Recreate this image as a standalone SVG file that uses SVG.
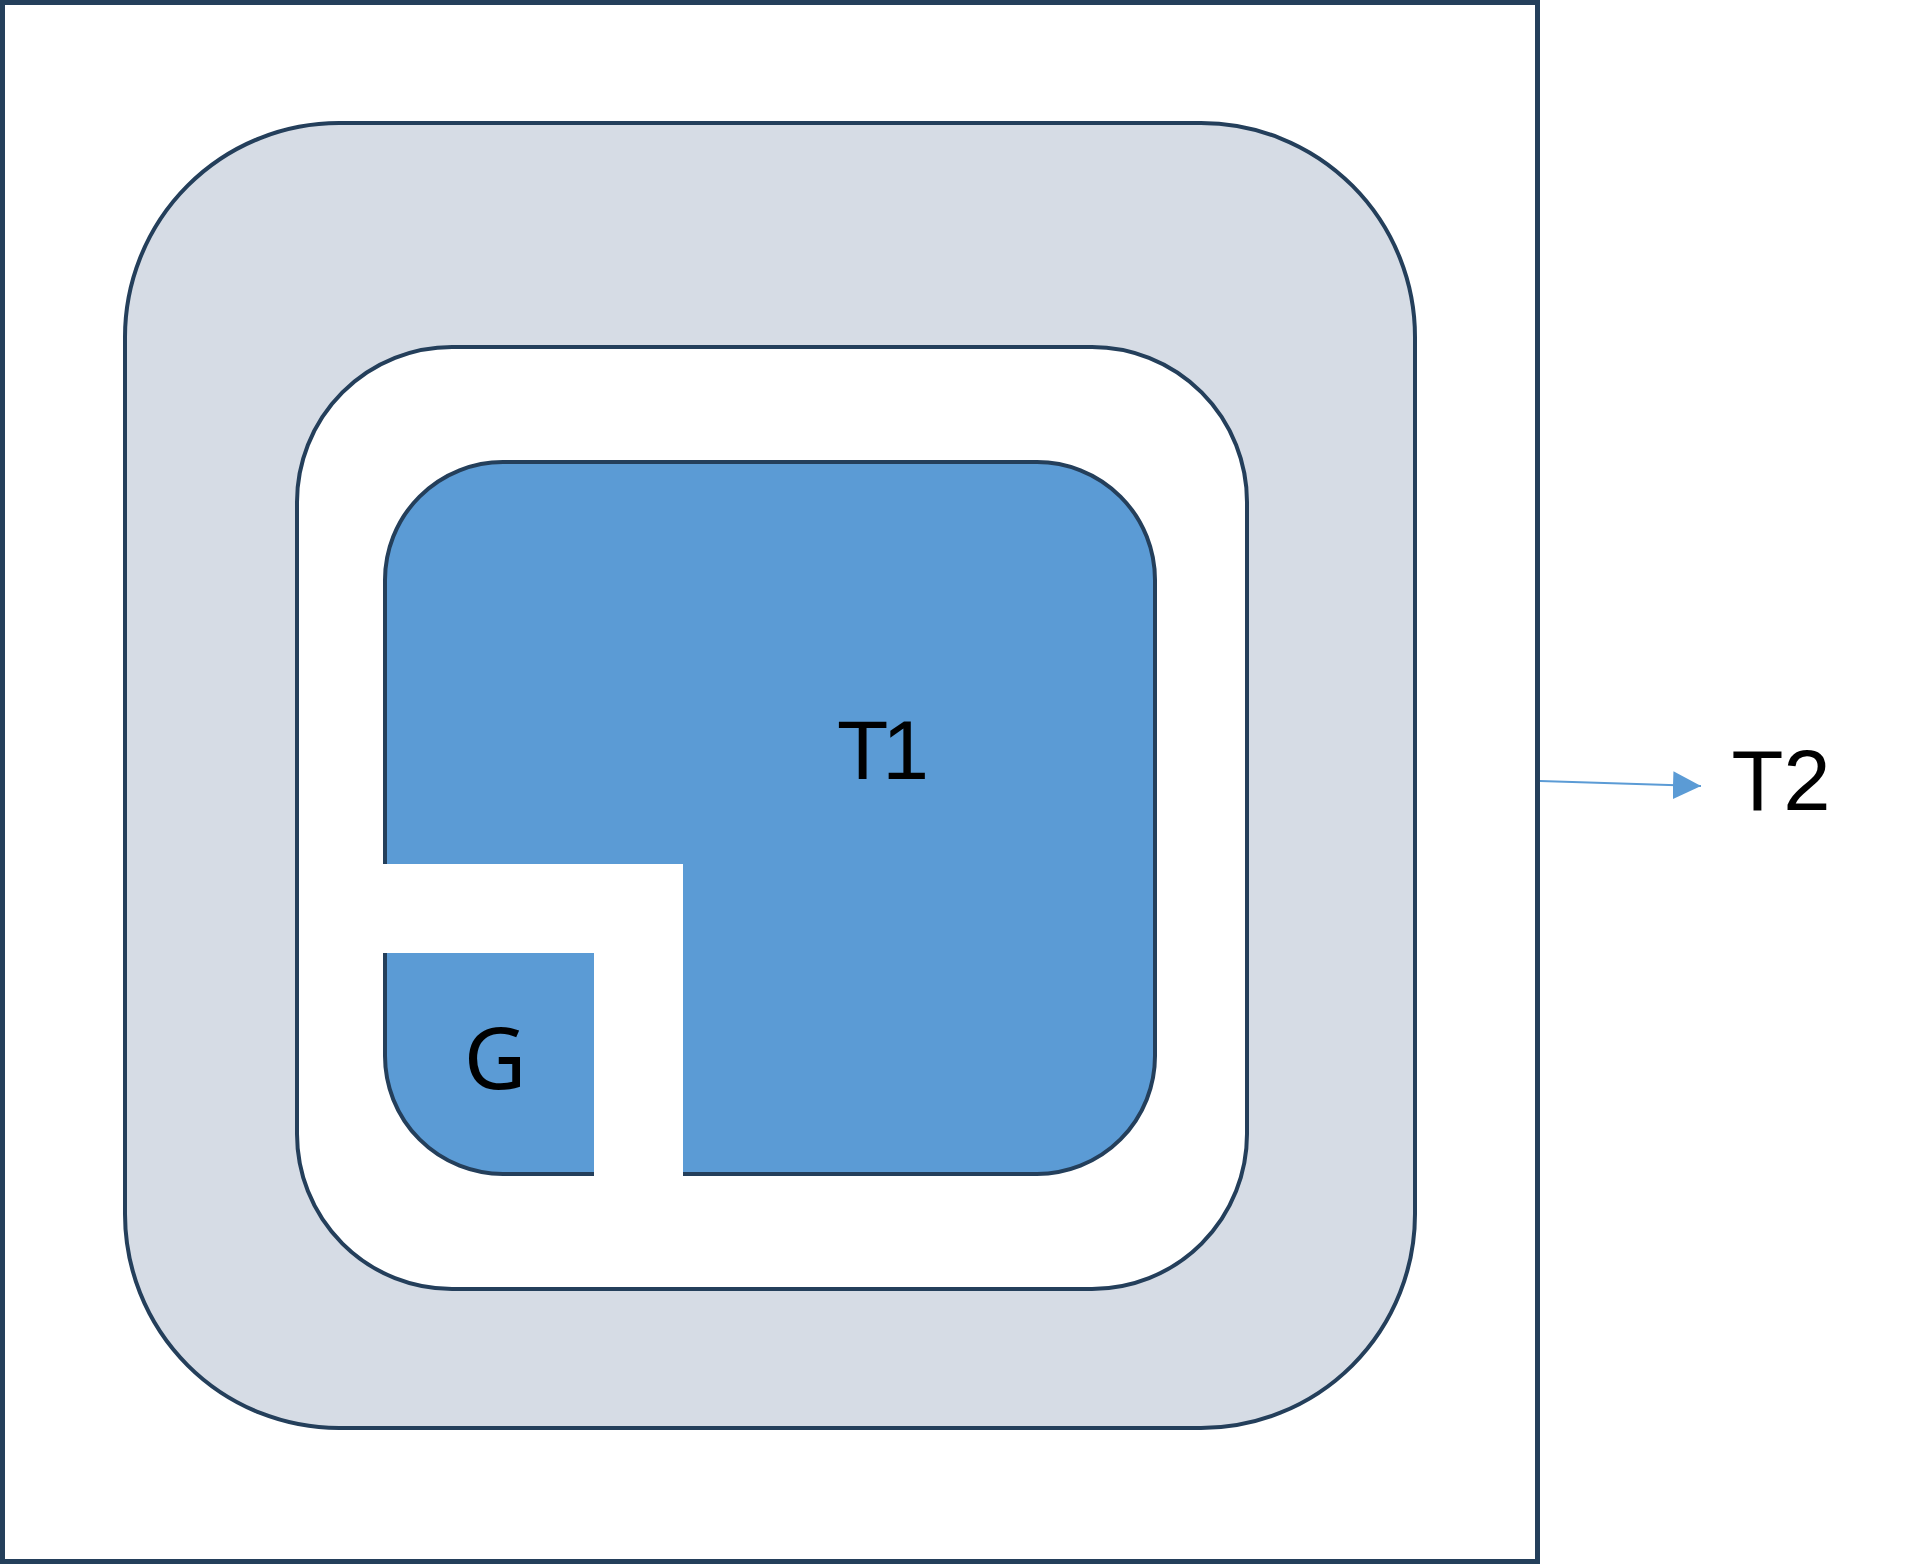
<svg xmlns="http://www.w3.org/2000/svg" width="1914" height="1564" viewBox="0 0 1914 1564">
  <defs>
    <style>
      .edge { stroke: #243F5B; stroke-width: 4; }
      .lbl { font-family: "Liberation Sans", Arial, sans-serif; fill: #000; text-anchor: middle; }
    </style>
    <marker id="arrow" markerWidth="28" markerHeight="28" refX="28" refY="14" orient="auto" markerUnits="userSpaceOnUse">
      <path d="M0,0 L28,14 L0,28 Z" fill="#5B9BD5"/>
    </marker>
  </defs>
  <rect width="1914" height="1564" fill="#FFFFFF"/>
  <g id="frame">
    <rect x="2.5" y="2.5" width="1535" height="1559" fill="#FFFFFF" stroke="#243F5B" stroke-width="5"/>
  </g>
  <g id="outer-ring">
    <rect class="edge" x="125" y="123" width="1290" height="1305" rx="214" ry="214" fill="#D6DCE5"/>
  </g>
  <g id="gap">
    <rect class="edge" x="297" y="347" width="950" height="942" rx="155" ry="155" fill="#FFFFFF"/>
  </g>
  <g id="T1">
    <rect class="edge" x="385" y="462" width="770" height="712" rx="118" ry="118" fill="#5B9BD5"/>
    <polygon points="382,864 683,864 683,1177 594,1177 594,953 382,953" fill="#FFFFFF"/>
    <text class="lbl" x="880" y="779" font-size="84" letter-spacing="-6">T1</text>
  </g>
  <g id="G">
    <text x="495" y="1089" font-size="86" font-family="'Noto Sans', 'Open Sans', sans-serif" text-anchor="middle" fill="#000">G</text>
  </g>
  <g id="T2">
    <text class="lbl" x="1781" y="810" font-size="85">T2</text>
  </g>
  <g id="connectors">
    <line x1="1540" y1="781" x2="1701" y2="786" stroke="#5B9BD5" stroke-width="2" marker-end="url(#arrow)"/>
  </g>
</svg>
